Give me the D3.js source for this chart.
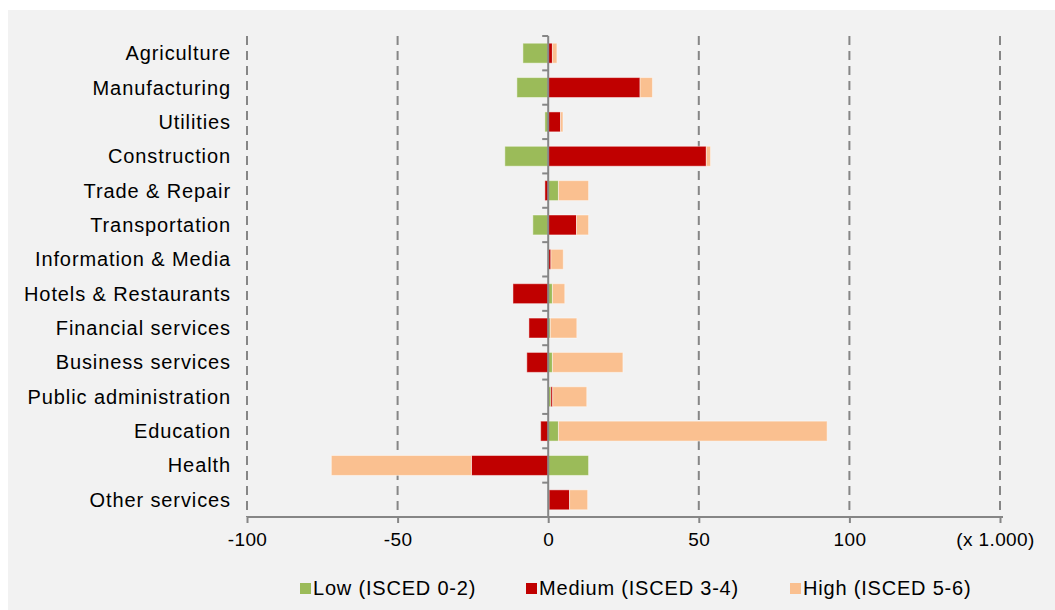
<!DOCTYPE html>
<html lang="en">
<head>
  <meta charset="UTF-8">
  <title>Employment change by sector and education</title>
  <script src="https://d3js.org/d3.v7.min.js"></script>
  <style>
    body { margin: 0; background: #fff; }
    svg text { font-family: 'Liberation Sans', Arial, sans-serif; fill: #000; }
  </style>
</head>
<body>
  <div id="canvas"></div>
  <script>
    // values in thousands
    const sectors = ['Agriculture', 'Manufacturing', 'Utilities', 'Construction', 'Trade & Repair',
      'Transportation', 'Information & Media', 'Hotels & Restaurants', 'Financial services',
      'Business services', 'Public administration', 'Education', 'Health', 'Other services'];
    const low    = [-8.4, -10.4, -1.1, -14.4, 3.4, -5.1, 0.1, 1.4, 0.7, 1.4, 0.9, 3.4, 13.4, 0.3];
    const medium = [1.4, 30.5, 4.1, 52.5, -1.1, 9.4, 0.8, -11.7, -6.4, -7.1, 0.6, -2.5, -25.5, 6.8];
    const high   = [1.5, 4.1, 0.8, 1.4, 10.0, 4.0, 4.1, 4.1, 8.8, 23.4, 11.3, 89.2, -46.5, 6.0];
    const xTicks = [-100, -50, 0, 50, 100, 150];
    const seriesNames = ['Low (ISCED 0-2)', 'Medium (ISCED 3-4)', 'High (ISCED 5-6)'];
    const colors = ['#9bbb59', '#c00000', '#fac090'];

    const width = 1055, height = 610;
    const plotLeft = 247, plotRight = 1000, plotTop = 36, plotBottom = 517;

    const svg = d3.select('#canvas').append('svg')
      .attr('width', width)
      .attr('height', height);

    svg.append('rect')
      .attr('x', 8).attr('y', 10)
      .attr('width', width - 8).attr('height', height - 10)
      .attr('fill', '#f2f2f2');

    const keys = ['low', 'medium', 'high'];
    const rows = sectors.map((s, i) => ({ sector: s, low: low[i], medium: medium[i], high: high[i] }));
    const stacked = d3.stack().keys(keys).offset(d3.stackOffsetDiverging)(rows);

    const x = d3.scaleLinear().domain([-100, 150]).range([plotLeft, plotRight]);
    const y = d3.scaleBand().domain(sectors).range([plotTop, plotBottom]).paddingInner(0.42).paddingOuter(0.21);

    // dashed gridlines
    svg.append('g')
      .selectAll('line')
      .data(xTicks.filter(d => d !== 0))
      .enter()
      .append('line')
      .attr('x1', d => x(d)).attr('x2', d => x(d))
      .attr('y1', plotTop).attr('y2', plotBottom)
      .attr('stroke', '#868686')
      .attr('stroke-width', 2)
      .attr('stroke-dasharray', '9,6');

    // bars
    svg.append('g')
      .selectAll('g')
      .data(stacked)
      .enter()
      .append('g')
      .attr('fill', (d, i) => colors[i])
      .selectAll('rect')
      .data(d => d)
      .enter()
      .append('rect')
      .attr('x', d => x(Math.min(d[0], d[1])))
      .attr('width', d => Math.abs(x(d[1]) - x(d[0])))
      .attr('y', d => y(d.data.sector))
      .attr('height', y.bandwidth())
      .attr('stroke', 'rgba(255,255,255,0.45)')
      .attr('stroke-width', 1);

    // vertical axis at zero with ticks between categories
    const zeroX = x(0);
    svg.append('line')
      .attr('x1', zeroX).attr('x2', zeroX)
      .attr('y1', plotTop).attr('y2', plotBottom)
      .attr('stroke', '#868686').attr('stroke-width', 2);
    svg.append('g')
      .selectAll('line')
      .data(d3.range(sectors.length + 1))
      .enter()
      .append('line')
      .attr('x1', zeroX - 6).attr('x2', zeroX)
      .attr('y1', i => plotTop + i * y.step())
      .attr('y2', i => plotTop + i * y.step())
      .attr('stroke', '#868686').attr('stroke-width', 2);

    // category labels
    svg.append('g')
      .selectAll('text')
      .data(sectors)
      .enter()
      .append('text')
      .attr('x', 231)
      .attr('y', d => y(d) + y.bandwidth() / 2)
      .attr('dy', '0.35em')
      .attr('text-anchor', 'end')
      .style('font-size', '20px')
      .style('letter-spacing', '0.9px')
      .text(d => d);

    // x axis
    const xAxis = d3.axisBottom(x)
      .tickValues(xTicks)
      .tickSize(6)
      .tickPadding(10)
      .tickSizeOuter(0)
      .tickFormat(d => d === 150 ? '(x 1.000)' : d);
    const gx = svg.append('g')
      .attr('transform', 'translate(0,' + plotBottom + ')')
      .call(xAxis);
    gx.select('.domain').attr('stroke', '#868686').attr('stroke-width', 2)
      .attr('d', 'M' + plotLeft + ',0H' + (plotRight + 3));
    gx.selectAll('.tick line').attr('stroke', '#868686').attr('stroke-width', 2);
    gx.selectAll('.tick text')
      .style('font-size', '19px')
      .style('font-family', "'Liberation Sans', Arial, sans-serif")
      .style('letter-spacing', '0.4px')
      .attr('fill', '#000')
      .attr('dx', d => d === 150 ? -5 : 0);

    // legend
    const legendX = [300, 526, 790];
    const legend = svg.append('g')
      .selectAll('g')
      .data(seriesNames)
      .enter()
      .append('g')
      .attr('transform', (d, i) => 'translate(' + legendX[i] + ',588)');
    legend.append('rect')
      .attr('x', 0).attr('y', -5)
      .attr('width', 11).attr('height', 11)
      .attr('fill', (d, i) => colors[i]);
    legend.append('text')
      .attr('x', 13)
      .attr('dy', '0.35em')
      .style('font-size', '20px')
      .style('letter-spacing', '0.8px')
      .text(d => d);
  </script>
</body>
</html>
